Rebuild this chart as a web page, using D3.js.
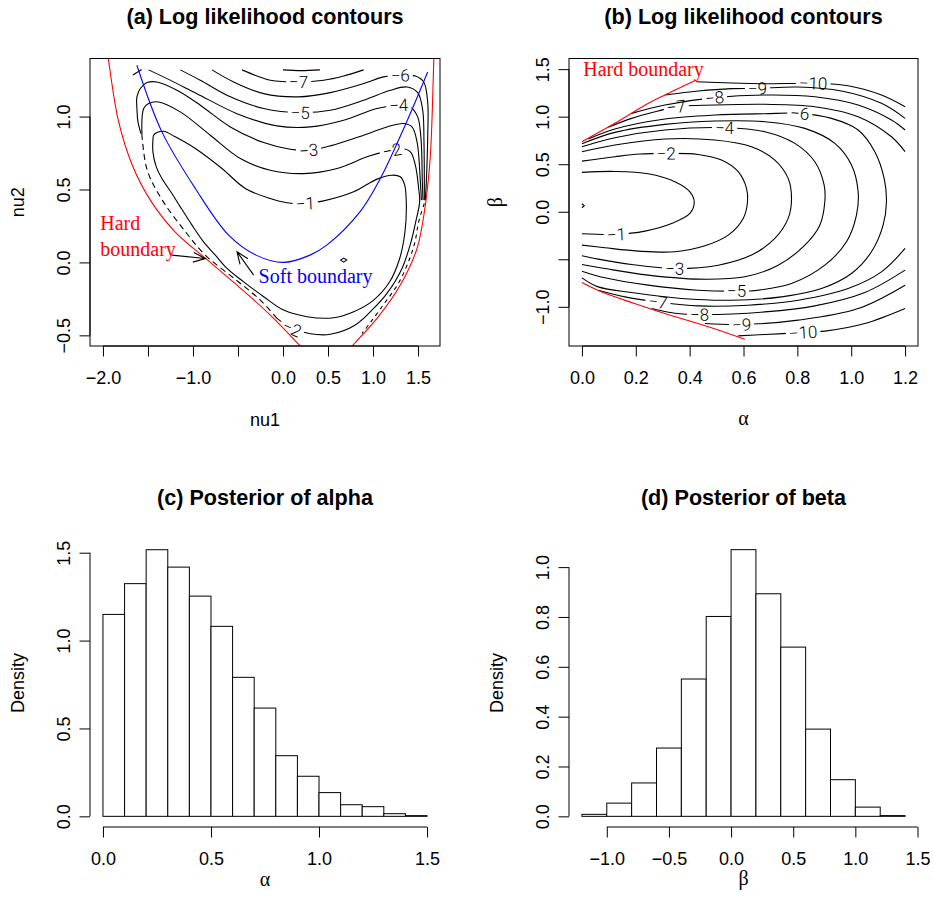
<!DOCTYPE html>
<html>
<head>
<meta charset="utf-8">
<script src="https://cdn.jsdelivr.net/npm/d3@7"></script>
<style>
  body { margin: 0; background: #fff; }
  svg text { font-family: "Liberation Sans", Arial, Helvetica, sans-serif; }
  .main { font-size: 21.6px; font-weight: bold; }
  .lab { font-size: 18px; }
  svg text.greek, svg text.note { font-family: "Liberation Serif", "Times New Roman", serif; }
  .greek { font-size: 20px; }
  .note { font-size: 20px; }
  svg text.clab { font-family: Roboto, "DejaVu Sans", sans-serif; font-weight: 300; font-size: 17px; }
</style>
</head>
<body>
<svg id="fig" width="934" height="915"></svg>
<script>
// ---- panel (a): log likelihood in (nu1, nu2) ----
const nu1Ticks = [-2, -1.5, -1, -0.5, 0, 0.5, 1, 1.5],
      nu1Labels = [-2, -1, 0, 0.5, 1, 1.5],
      nu2Ticks = [-0.5, 0, 0.5, 1];

const contoursA = [
  {level: -8, pts: [[0.0, 1.32], [0.2, 1.315], [0.41, 1.32]], labels: []},
  {level: -7, pts: [[-0.456, 1.32], [-0.289, 1.278], [-0.141, 1.249], [0.174, 1.237], [0.452, 1.249], [0.674, 1.278], [0.896, 1.32]], labels: [3]},
  {level: -6, pts: [[-0.789, 1.32], [-0.548, 1.237], [-0.215, 1.157], [0.174, 1.135], [0.526, 1.164], [0.896, 1.226], [1.118, 1.272], [1.303, 1.283], [1.47, 1.278], [1.563, 1.237], [1.607, 1.10], [1.607, 0.849], [1.592, 0.552], [1.581, 0.427]], labels: [7]},
  {level: -5, pts: [[-1.141, 1.32], [-0.919, 1.249], [-0.585, 1.135], [-0.215, 1.055], [0.192, 1.027], [0.526, 1.043], [0.896, 1.112], [1.192, 1.18], [1.378, 1.203], [1.496, 1.164], [1.552, 1.043], [1.566, 0.826], [1.570, 0.552], [1.570, 0.427]], labels: [4]},
  {level: -4, pts: [[-1.493, 1.32], [-1.289, 1.26], [-0.956, 1.157], [-0.511, 1.02], [-0.067, 0.936], [0.303, 0.929], [0.674, 0.975], [1.044, 1.055], [1.285, 1.078], [1.415, 1.066], [1.496, 0.998], [1.533, 0.849], [1.548, 0.552], [1.555, 0.427]], labels: [8]},
  {level: -3, pts: [[-1.578, 0.883], [-1.611, 0.963], [-1.623, 1.055], [-1.623, 1.135], [-1.585, 1.192], [-1.511, 1.233], [-1.4, 1.237], [-1.178, 1.18], [-0.919, 1.078], [-0.585, 0.929], [-0.215, 0.822], [0.081, 0.776], [0.285, 0.769], [0.526, 0.799], [0.896, 0.872], [1.155, 0.929], [1.34, 0.952], [1.433, 0.929], [1.489, 0.826], [1.526, 0.552], [1.537, 0.427]], labels: [12]},
  {level: -2, pts: [[-1.567, 0.872], [-1.548, 1.055], [-1.493, 1.089], [-1.382, 1.10], [-1.141, 1.032], [-0.808, 0.872], [-0.474, 0.712], [-0.141, 0.632], [0.229, 0.609], [0.600, 0.644], [0.933, 0.724], [1.118, 0.758], [1.211, 0.769], [1.322, 0.781], [1.415, 0.758], [1.470, 0.667], [1.507, 0.507], [1.518, 0.415], [1.474, 0.278], [1.422, 0.141], [1.322, -0.041], [1.155, -0.212], [1.007, -0.315], [0.803, -0.429], [0.526, -0.493], [0.303, -0.489], [0.100, -0.452], [-0.067, -0.384]], labels: [12, 26]},
  {level: -2, dash: "6,4", pts: [[-0.067, -0.384], [-0.252, -0.258], [-0.519, -0.121], [-0.863, 0.050], [-1.097, 0.221], [-1.341, 0.427], [-1.508, 0.632], [-1.567, 0.872]], labels: []},
  {level: -3, dash: "4,4", pts: [[1.570, 0.404], [1.507, 0.278], [1.466, 0.141], [1.407, 0.027], [1.292, -0.133], [1.126, -0.281], [0.978, -0.406], [0.878, -0.486]], labels: []},
  {level: -1, closed: true, pts: [[-1.437, 0.872], [-1.400, 0.890], [-1.326, 0.899], [-1.197, 0.861], [-0.974, 0.781], [-0.678, 0.644], [-0.419, 0.507], [-0.141, 0.438], [0.044, 0.409], [0.248, 0.404], [0.452, 0.422], [0.785, 0.484], [1.044, 0.571], [1.211, 0.598], [1.303, 0.587], [1.352, 0.530], [1.370, 0.393], [1.355, 0.210], [1.296, 0.027], [1.185, -0.133], [1.007, -0.258], [0.785, -0.338], [0.563, -0.379], [0.266, -0.372], [0.007, -0.327], [-0.215, -0.235], [-0.437, -0.133], [-0.622, -0.041], [-0.752, 0.050], [-0.882, 0.141], [-1.011, 0.256], [-1.141, 0.381], [-1.234, 0.473], [-1.345, 0.575], [-1.408, 0.655], [-1.445, 0.758], [-1.445, 0.838]], labels: [9]},
  {level: 0, closed: true, linear: true, pts: [[0.64, 0.016], [0.674, 0.03], [0.708, 0.016], [0.674, 0.002]], labels: []},
  {level: -4, pts: [[-1.667, 1.285], [-1.57, 1.322]], labels: []}
];

const hardLeftA = [[-1.949, 1.43], [-1.941, 1.399], [-1.830, 0.975], [-1.674, 0.666], [-1.474, 0.427], [-1.197, 0.208], [-0.863, 0.029], [-0.474, -0.176], [-0.141, -0.361], [0.192, -0.573], [0.234, -0.6]],
      hardRightA = [[1.678, 1.42], [1.674, 1.363], [1.637, 0.735], [1.581, 0.393], [1.489, 0.096], [1.303, -0.155], [1.044, -0.384], [0.785, -0.562], [0.75, -0.59]],
      softA = [[-1.623, 1.352], [-1.345, 0.895], [-0.974, 0.507], [-0.604, 0.187], [-0.3, 0.05], [0.0, 0.0], [0.3, 0.05], [0.489, 0.12], [0.859, 0.35], [1.081, 0.575], [1.378, 0.97], [1.607, 1.306]];

const arrowsA = [
  {from: [-1.234, 0.050], to: [-0.863, 0.027]},
  {from: [-0.326, -0.087], to: [-0.511, 0.073]}
];
const notesA = [
  {text: "Hard", at: [-2.03, 0.221], color: "#ff0000"},
  {text: "boundary", at: [-2.03, 0.043], color: "#ff0000"},
  {text: "Soft boundary", at: [-0.271, -0.144], color: "#0000ff"}
];

// ---- panel (b): log likelihood in (alpha, beta) ----
const alphaTicksB = [0, 0.2, 0.4, 0.6, 0.8, 1.0, 1.2],
      betaTicksB = [-1, -0.5, 0, 0.5, 1, 1.5],
      betaLabelsB = [-1, 0, 0.5, 1, 1.5];

const contoursB = [
  {level: -1, pts: [[0, 0.414], [0.1225, 0.424], [0.2462, 0.400], [0.3452, 0.316], [0.4009, 0.210], [0.417, 0.105], [0.4009, -0.018], [0.3328, -0.123], [0.2339, -0.204], [0.1274, -0.239], [0, -0.232]], labels: [9]},
  {level: -2, pts: [[0, 0.533], [0.1225, 0.579], [0.2153, 0.607], [0.3130, 0.614], [0.4318, 0.603], [0.5184, 0.544], [0.5803, 0.421], [0.6112, 0.246], [0.6149, 0.105], [0.5989, -0.070], [0.5432, -0.246], [0.4566, -0.358], [0.3452, -0.421], [0.2091, -0.414], [0.0854, -0.379], [0, -0.351]], labels: [3]},
  {level: -3, pts: [[0, 0.632], [0.1225, 0.702], [0.3081, 0.765], [0.4937, 0.754], [0.6298, 0.684], [0.7164, 0.544], [0.7659, 0.351], [0.7783, 0.140], [0.7659, -0.070], [0.7164, -0.281], [0.6298, -0.456], [0.5061, -0.562], [0.344, -0.597], [0.1844, -0.555], [0.0606, -0.498], [0, -0.463]], labels: [12]},
  {level: -4, pts: [[0, 0.684], [0.1225, 0.779], [0.3081, 0.860], [0.5296, 0.884], [0.6793, 0.842], [0.7906, 0.719], [0.8649, 0.526], [0.8995, 0.281], [0.902, 0.105], [0.8834, -0.141], [0.8278, -0.351], [0.7288, -0.562], [0.6050, -0.684], [0.4318, -0.709], [0.2462, -0.667], [0.0854, -0.597], [0, -0.555]], labels: [3]},
  {level: -5, pts: [[0, 0.716], [0.1225, 0.835], [0.3081, 0.919], [0.4937, 0.954], [0.6793, 0.947], [0.8278, 0.877], [0.9391, 0.719], [1.001, 0.491], [1.0257, 0.210], [1.0195, -0.035], [0.9824, -0.316], [0.9020, -0.562], [0.7783, -0.755], [0.6545, -0.825], [0.5741, -0.835], [0.4318, -0.825], [0.2462, -0.772], [0.0854, -0.695], [0, -0.625]], labels: [14]},
  {level: -6, pts: [[0.0235, 0.765], [0.1225, 0.870], [0.3081, 0.975], [0.4937, 1.017], [0.6793, 1.031], [0.8092, 1.035], [0.9268, 0.982], [1.0257, 0.860], [1.0876, 0.632], [1.1223, 0.351], [1.1309, 0.105], [1.1185, -0.141], [1.0752, -0.421], [1.001, -0.649], [0.8896, -0.807], [0.7412, -0.895], [0.5556, -0.930], [0.37, -0.912], [0.1844, -0.849], [0.0606, -0.790], [0, -0.695]], labels: [5]},
  {level: -7, pts: [[0.0978, 0.888], [0.1844, 0.982], [0.2833, 1.060], [0.3502, 1.105], [0.4937, 1.123], [0.6793, 1.130], [0.8649, 1.105], [1.0257, 1.0], [1.1495, 0.789], [1.2, 0.632]], labels: [3]},
  {level: -7, pts: [[1.2, -0.386], [1.1123, -0.632], [0.9886, -0.807], [0.803, -0.930], [0.6174, -0.983], [0.4318, -0.990], [0.2821, -0.948], [0.1596, -0.895], [0.0606, -0.825]], labels: [6]},
  {level: -8, pts: [[0.1844, 1.035], [0.3081, 1.123], [0.4925, 1.200], [0.6793, 1.228], [0.8649, 1.210], [1.0257, 1.123], [1.1495, 0.965], [1.2, 0.860]], labels: [2]},
  {level: -8, pts: [[1.2, -0.614], [1.0505, -0.849], [0.8649, -0.990], [0.6793, -1.053], [0.4368, -1.081], [0.3452, -1.067], [0.2586, -1.018]], labels: [4]},
  {level: -9, pts: [[0.3081, 1.228], [0.4318, 1.270], [0.5556, 1.295], [0.6521, 1.298], [0.803, 1.312], [0.9639, 1.270], [1.1123, 1.140], [1.2, 0.982]], labels: [3]},
  {level: -9, pts: [[1.2, -0.772], [1.0257, -1.018], [0.803, -1.140], [0.5927, -1.186], [0.4566, -1.176]], labels: [3]},
  {level: -10, pts: [[0.4244, 1.368], [0.5556, 1.354], [0.6793, 1.347], [0.8587, 1.351], [0.9886, 1.326], [1.1123, 1.228], [1.2, 1.105]], labels: [3]},
  {level: -10, pts: [[1.2, -1.018], [1.0505, -1.176], [0.902, -1.256], [0.8216, -1.270], [0.6793, -1.291], [0.5803, -1.305]], labels: [3]},
  {level: 0, linear: true, pts: [[0, 0.084], [0.0087, 0.063], [0, 0.042]], labels: []}
];

const hardUpperB = [[0.0, 0.737], [0.1225, 0.930], [0.24, 1.130], [0.3081, 1.228], [0.4244, 1.386]],
      hardLowerB = [[0.0, -0.745], [0.0718, -0.842], [0.1955, -0.965], [0.3192, -1.081], [0.443, -1.186], [0.605, -1.341]];

// ---- panels (c), (d): posterior histograms ----
const alphaBreaks = [0, 0.1, 0.2, 0.3, 0.4, 0.5, 0.6, 0.7, 0.8, 0.9, 1.0, 1.1, 1.2, 1.3, 1.4, 1.5],
      alphaDensity = [1.149, 1.324, 1.517, 1.418, 1.253, 1.081, 0.791, 0.616, 0.345, 0.228, 0.135, 0.066, 0.055, 0.015, 0.004],
      alphaTicksC = [0, 0.5, 1, 1.5],
      densTicksC = [0, 0.5, 1, 1.5];

const betaBreaks = [-1.2, -1.0, -0.8, -0.6, -0.4, -0.2, 0, 0.2, 0.4, 0.6, 0.8, 1.0, 1.2, 1.4],
      betaDensity = [0.008, 0.053, 0.134, 0.274, 0.551, 0.802, 1.070, 0.893, 0.679, 0.350, 0.147, 0.037, 0.003],
      betaTicksD = [-1, -0.5, 0, 0.5, 1, 1.5],
      densTicksD = [0, 0.2, 0.4, 0.6, 0.8, 1.0];

// ---- drawing ----
const W = 934, H = 915, TICK = 10.5;
const svg = d3.select("#fig");
const cols = [[90, 440], [569, 918]],
      rows = [[58.5, 346], [539, 827]];
const fmt1 = d3.format(".1f");
let clipCount = 0;

function makePanel(col, row, xdom, ydom) {
  const id = "clip" + (clipCount++);
  svg.append("clipPath").attr("id", id).append("rect")
    .attr("x", col[0]).attr("y", row[0])
    .attr("width", col[1] - col[0]).attr("height", row[1] - row[0]);
  return {
    x: d3.scaleLinear().domain(xdom).range(col),
    y: d3.scaleLinear().domain(ydom).range([row[1], row[0]]),
    col: col, row: row, id: id,
    g: svg.append("g")
  };
}

function axes(p, xt, xl, yt, yl) {
  let gx = p.g.append("g")
    .attr("transform", "translate(0," + p.row[1] + ")")
    .call(d3.axisBottom(p.x).tickValues(xt).tickSize(TICK).tickPadding(15)
      .tickFormat(d => xl.includes(d) ? fmt1(d) : ""));
  gx.select(".domain").attr("d", "M" + p.x(xt[0]) + ",0H" + p.x(xt[xt.length - 1]));

  let gy = p.g.append("g")
    .attr("transform", "translate(" + p.col[0] + ",0)")
    .call(d3.axisLeft(p.y).tickValues(yt).tickSize(TICK)
      .tickFormat(d => yl.includes(d) ? fmt1(d) : ""));
  gy.select(".domain").attr("d", "M0," + p.y(yt[0]) + "V" + p.y(yt[yt.length - 1]));
  gy.selectAll(".tick text")
    .attr("x", null).attr("dy", null)
    .attr("text-anchor", "middle")
    .attr("transform", "translate(-20.5,0) rotate(-90)");

  [gx, gy].forEach(g => g.attr("font-size", 18));
  [gx, gy].forEach(g => g.selectAll("line, path").attr("stroke", "#000"));
}

function box(p) {
  p.g.append("rect")
    .attr("x", p.col[0]).attr("y", p.row[0])
    .attr("width", p.col[1] - p.col[0]).attr("height", p.row[1] - p.row[0])
    .attr("fill", "none").attr("stroke", "#000");
}

function drawContours(p, list) {
  let cg = p.g.append("g").attr("clip-path", "url(#" + p.id + ")");
  list.forEach((c, k) => {
    let curve = c.linear ? (c.closed ? d3.curveLinearClosed : d3.curveLinear)
                         : (c.closed ? d3.curveCatmullRomClosed : d3.curveCatmullRom);
    let line = d3.line().x(d => p.x(d[0])).y(d => p.y(d[1])).curve(curve);
    let path = cg.append("path")
      .attr("d", line(c.pts))
      .attr("fill", "none").attr("stroke", "#000").attr("stroke-width", 1.1);
    if (c.dash) path.attr("stroke-dasharray", c.dash);
    if (!c.labels.length) return;

    // break the line under each label, like contour() does
    let maskId = p.id + "m" + k;
    let mask = svg.append("mask").attr("id", maskId)
      .attr("maskUnits", "userSpaceOnUse")
      .attr("x", 0).attr("y", 0).attr("width", W).attr("height", H);
    mask.append("rect").attr("width", W).attr("height", H).attr("fill", "#fff");

    c.labels.forEach(i => {
      let a = c.pts[Math.max(i - 1, 0)],
          b = c.pts[Math.min(i + 1, c.pts.length - 1)];
      let ang = Math.atan2(p.y(b[1]) - p.y(a[1]), p.x(b[0]) - p.x(a[0])) * 180 / Math.PI;
      if (ang > 90) ang -= 180;
      if (ang < -90) ang += 180;
      let lx = p.x(c.pts[i][0]), ly = p.y(c.pts[i][1]);
      let tr = "translate(" + lx + "," + ly + ") rotate(" + ang + ")";
      let t = p.g.append("text").attr("class", "clab")
        .attr("text-anchor", "middle").attr("dy", "0.36em")
        .attr("transform", tr)
        .text("\u2212" + Math.abs(c.level));
      let w = t.node().getComputedTextLength() + 6;
      mask.append("rect")
        .attr("x", -w / 2).attr("y", -8).attr("width", w).attr("height", 16)
        .attr("fill", "#000").attr("transform", tr);
    });
    path.attr("mask", "url(#" + maskId + ")");
  });
}

function boundary(p, pts, color) {
  p.g.append("path")
    .attr("clip-path", "url(#" + p.id + ")")
    .attr("d", d3.line().x(d => p.x(d[0])).y(d => p.y(d[1])).curve(d3.curveCatmullRom)(pts))
    .attr("fill", "none").attr("stroke", color).attr("stroke-width", 1.1);
}

function arrow(p, from, to) {
  let x0 = p.x(from[0]), y0 = p.y(from[1]), x1 = p.x(to[0]), y1 = p.y(to[1]);
  let a = Math.atan2(y1 - y0, x1 - x0), L = 13, h = 22 * Math.PI / 180;
  p.g.append("path")
    .attr("d", "M" + x0 + "," + y0 + "L" + x1 + "," + y1 +
               "M" + (x1 - L * Math.cos(a - h)) + "," + (y1 - L * Math.sin(a - h)) +
               "L" + x1 + "," + y1 +
               "L" + (x1 - L * Math.cos(a + h)) + "," + (y1 - L * Math.sin(a + h)))
    .attr("fill", "none").attr("stroke", "#000").attr("stroke-width", 1.1);
}

function note(p, n) {
  p.g.append("text").attr("class", "note")
    .attr("x", p.x(n.at[0])).attr("y", p.y(n.at[1]))
    .attr("fill", n.color).text(n.text);
}

function hist(p, breaks, dens) {
  p.g.selectAll("rect.bar").data(dens).join("rect")
    .attr("class", "bar")
    .attr("x", (d, i) => p.x(breaks[i]))
    .attr("width", (d, i) => p.x(breaks[i + 1]) - p.x(breaks[i]))
    .attr("y", d => p.y(d))
    .attr("height", d => p.y(0) - p.y(d))
    .attr("fill", "#fff").attr("stroke", "#000");
}

function title(col, row, text) {
  svg.append("text").attr("class", "main")
    .attr("x", (col[0] + col[1]) / 2).attr("y", row[0] - 34.5)
    .attr("text-anchor", "middle").text(text);
}

function xlab(col, y, text, cls) {
  svg.append("text").attr("class", cls)
    .attr("x", (col[0] + col[1]) / 2).attr("y", y)
    .attr("text-anchor", "middle").text(text);
}

function ylab(x, row, text, cls) {
  svg.append("text").attr("class", cls)
    .attr("text-anchor", "middle")
    .attr("transform", "translate(" + x + "," + (row[0] + row[1]) / 2 + ") rotate(-90)")
    .text(text);
}

// (a)
const pa = makePanel(cols[0], rows[0], [-2.144, 1.744], [-0.573, 1.398]);
drawContours(pa, contoursA);
boundary(pa, softA, "#0000ff");
boundary(pa, hardLeftA, "#ff0000");
boundary(pa, hardRightA, "#ff0000");
arrowsA.forEach(a => arrow(pa, a.from, a.to));
notesA.forEach(n => note(pa, n));
box(pa);
axes(pa, nu1Ticks, nu1Labels, nu2Ticks, nu2Ticks);
title(cols[0], rows[0], "(a) Log likelihood contours");
xlab(cols[0], 426, "nu1", "lab");
ylab(23.5, rows[0], "nu2", "lab");

// (b)
const pb = makePanel(cols[1], rows[0], [-0.048, 1.248], [-1.412, 1.612]);
drawContours(pb, contoursB);
boundary(pb, hardUpperB, "#ff0000");
boundary(pb, hardLowerB, "#ff0000");
note(pb, {text: "Hard boundary", at: [0.005, 1.433], color: "#ff0000"});
box(pb);
axes(pb, alphaTicksB, alphaTicksB, betaTicksB, betaLabelsB);
title(cols[1], rows[0], "(b) Log likelihood contours");
xlab(cols[1], 425, "\u03b1", "greek");
ylab(502, rows[0], "\u03b2", "greek");

// (c)
const pc = makePanel(cols[0], rows[1], [-0.06, 1.56], [-0.0607, 1.578]);
hist(pc, alphaBreaks, alphaDensity);
axes(pc, alphaTicksC, alphaTicksC, densTicksC, densTicksC);
title(cols[0], rows[1], "(c) Posterior of alpha");
xlab(cols[0], 886, "\u03b1", "greek");
ylab(23.5, rows[1], "Density", "lab");

// (d)
const pd = makePanel(cols[1], rows[1], [-1.304, 1.504], [-0.0428, 1.1128]);
hist(pd, betaBreaks, betaDensity);
axes(pd, betaTicksD, betaTicksD, densTicksD, densTicksD);
title(cols[1], rows[1], "(d) Posterior of beta");
xlab(cols[1], 885, "\u03b2", "greek");
ylab(503, rows[1], "Density", "lab");
</script>
</body>
</html>
